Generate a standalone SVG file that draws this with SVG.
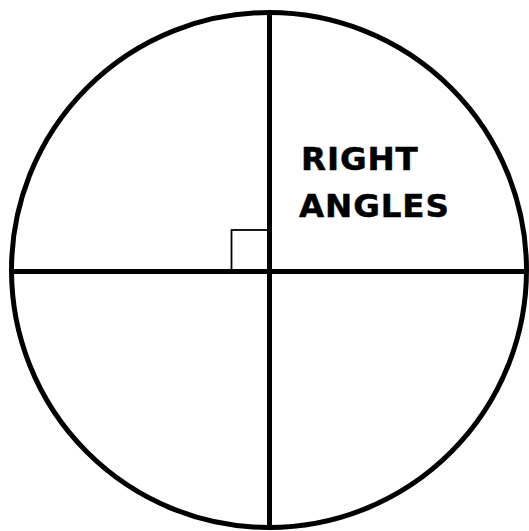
<svg xmlns="http://www.w3.org/2000/svg" width="529" height="531" viewBox="0 0 529 531">
<style>
.s{fill:none;stroke:#000;stroke-width:5}
.t{font-family:"DejaVu Sans",sans-serif;font-weight:bold;font-size:32.5px;letter-spacing:0.9px;fill:#000;stroke:#000;stroke-width:0.5}
</style>
<rect width="529" height="531" fill="#fff"/>
<g id="circle"><circle class="s" cx="269" cy="270" r="257.5"/></g>
<g id="connectors">
<line class="s" x1="269.5" y1="12" x2="269.5" y2="528"/>
<line class="s" x1="11" y1="271.5" x2="527" y2="271.5"/>
</g>
<g id="marker"><rect x="231.5" y="230" width="38" height="40" fill="none" stroke="#000" stroke-width="1.8"/></g>
<g id="label">
<text class="t" x="301" y="169.5">RIGHT</text>
<text class="t" x="299" y="216.5">ANGLES</text>
</g>
</svg>
